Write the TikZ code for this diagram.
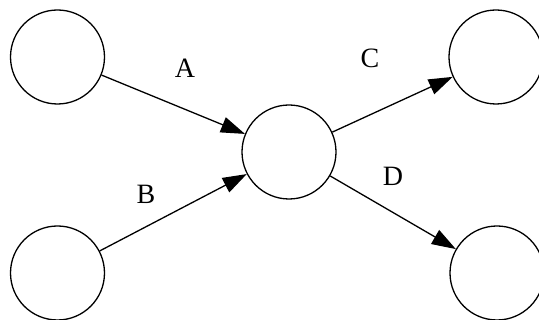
\documentclass[tikz,border=0pt]{standalone}
\usepackage{fontspec}
\setmainfont{Liberation Serif}
\usetikzlibrary{arrows.meta}
\begin{document}
\begin{tikzpicture}[x=1pt,y=-1pt,
  vertex/.style={circle,draw,line width=1.3pt,minimum size=94pt,inner sep=0pt},
  edge/.style={line width=1.3pt,-{Triangle[length=24pt,width=16pt]}},
  lbl/.style={anchor=base,font=\fontsize{28}{28}\selectfont,inner sep=0pt}]
\useasboundingbox (0,0) rectangle (539,320);
% nodes
\node[vertex] (tl) at (57.5,57) {};
\node[vertex] (bl) at (57.5,273) {};
\node[vertex] (m)  at (289,152) {};
\node[vertex] (tr) at (496,57) {};
\node[vertex] (br) at (497,273) {};
% edges
\draw[edge] (tl) -- (m);
\draw[edge] (bl) -- (m);
\draw[edge] (m) -- (tr);
\draw[edge] (m) -- (br);
% edge labels
\node[lbl] (la) at (185,77.3) {A};
\node[lbl] (lb) at (146,204) {B};
\node[lbl] (lc) at (370,67.8) {C};
\node[lbl] (ld) at (393,185.7) {D};
\end{tikzpicture}
\end{document}
